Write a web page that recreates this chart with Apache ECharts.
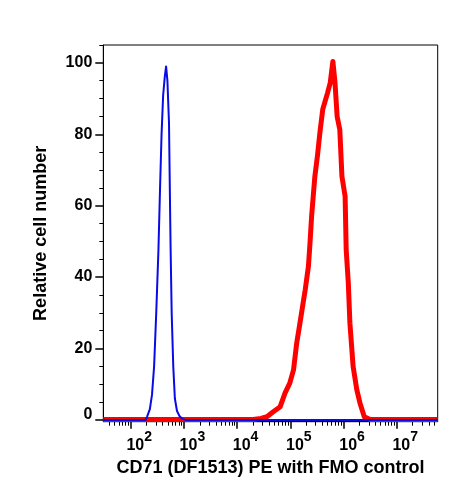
<!DOCTYPE html>
<html>
<head>
<meta charset="utf-8">
<script src="https://cdn.jsdelivr.net/npm/echarts@6/dist/echarts.min.js"></script>
<style>
html,body{margin:0;padding:0;background:#fff;}
#c{width:458px;height:493px;}
</style>
</head>
<body>
<div id="c"></div>
<script>
// x values are log10(fluorescence intensity)
const xRange = [1.485, 7.77];
const yRange = [-0.5, 105];
const xMajorExp = [2, 3, 4, 5, 6, 7];
const yMajor = [0, 20, 40, 60, 80, 100];
const yMinor = [5, 10, 15, 25, 30, 35, 45, 50, 55, 65, 70, 75, 85, 90, 95, 105];

// FMO control (blue)
const fmoLogX = [1.485, 2.28, 2.31, 2.36, 2.40, 2.44, 2.48, 2.52, 2.55, 2.58, 2.61, 2.64, 2.665, 2.69, 2.72, 2.735, 2.75, 2.77, 2.80, 2.83, 2.87, 2.92, 2.97, 3.03, 7.77];
const fmoY   = [0,     0,    1,    3,    7,    15,   30,   47,   64,   80,   91,   96,   99,    95,   83,   65,    48,   30,   15,   6,    2.5,  1,    0.3,  0,    0];

// CD71 (DF1513) PE (red)
const cd71LogX = [1.485, 4.30, 4.45, 4.56, 4.68, 4.81, 4.90, 4.99, 5.06, 5.12, 5.18, 5.24, 5.28, 5.34, 5.37, 5.40, 5.46, 5.51, 5.56, 5.61, 5.70, 5.75, 5.80, 5.84, 5.88, 5.93, 5.97, 6.03, 6.05, 6.09, 6.12, 6.18, 6.25, 6.31, 6.39, 6.50, 7.77];
const cd71Y    = [0.1,   0.1,  0.4,  0.9,  2.3,  3.7,  7.5,  10.3, 14,   21.5, 27,   32.7, 36.4, 43,   49.5, 57,   68,   74,   81,   87,   91.6, 94.4, 100.4, 94.4, 85,  81.3, 68.2, 62.6, 47.7, 38.3, 27.1, 15,   8.4,  4.7,  0.9,  0.1,  0.1];

function zip(xs, ys) { return xs.map((x, i) => [x, ys[i]]); }

const xMinor = [];
for (let d = 1; d <= 7; d++) {
  for (let k = 2; k <= 9; k++) {
    const v = Math.log10(k) + d;
    if (v > xRange[0] && v < xRange[1]) xMinor.push(v);
  }
}

const FONT = '"Liberation Sans", Arial, sans-serif';
const lineBlack = { lineStyle: { color: '#000', width: 1 } };

const chart = echarts.init(document.getElementById('c'), null, { renderer: 'canvas' });
chart.setOption({
  animation: false,
  backgroundColor: '#fff',
  grid: {
    left: 103.3, right: 20.3, top: 45, bottom: 71.3,
    show: true, borderColor: '#000', borderWidth: 1, backgroundColor: 'transparent'
  },
  xAxis: [
    {
      type: 'value', min: xRange[0], max: xRange[1], position: 'bottom',
      axisLine: { show: true, onZero: false, ...lineBlack },
      splitLine: { show: false },
      axisTick: { show: true, customValues: xMajorExp, length: 7, inside: false, lineStyle: { color: '#000', width: 1.5 } },
      axisLabel: {
        show: true, customValues: xMajorExp, margin: 8, padding: [0, 0, 0, 17],
        formatter: v => '{b|10}{s|' + Math.round(v) + '}',
        rich: {
          b: { fontFamily: FONT, fontWeight: 'bold', fontSize: 16, color: '#000' },
          s: { fontFamily: FONT, fontWeight: 'bold', fontSize: 14, color: '#000', padding: [0, 0, 18, 0] }
        }
      },
      name: 'CD71 (DF1513) PE with FMO control',
      nameLocation: 'middle', nameGap: 34,
      nameTextStyle: { fontFamily: FONT, fontWeight: 'bold', fontSize: 18, color: '#000' }
    },
    {
      type: 'value', min: xRange[0], max: xRange[1], position: 'bottom',
      axisLine: { show: false, onZero: false },
      splitLine: { show: false },
      axisTick: { show: true, customValues: xMinor, length: 4, lineStyle: { color: '#000', width: 1 } },
      axisLabel: { show: false }
    }
  ],
  yAxis: [
    {
      type: 'value', min: yRange[0], max: yRange[1], position: 'left',
      axisLine: { show: true, onZero: false, ...lineBlack },
      splitLine: { show: false },
      axisTick: { show: true, customValues: yMajor, length: 8, lineStyle: { color: '#000', width: 1.5 } },
      axisLabel: {
        show: true, customValues: yMajor, margin: 11,
        fontFamily: FONT, fontWeight: 'bold', fontSize: 16, color: '#000',
        formatter: v => v === 0 ? '{z|0}' : String(v),
        rich: { z: { fontFamily: FONT, fontWeight: 'bold', fontSize: 16, color: '#000', padding: [0, 0, 11, 0] } }
      },
      name: 'Relative cell number',
      nameLocation: 'middle', nameGap: 53,
      nameTextStyle: { fontFamily: FONT, fontWeight: 'bold', fontSize: 18, color: '#000' }
    },
    {
      type: 'value', min: yRange[0], max: yRange[1], position: 'left',
      axisLine: { show: false, onZero: false },
      splitLine: { show: false },
      axisTick: { show: true, customValues: yMinor, length: 4, lineStyle: { color: '#000', width: 1 } },
      axisLabel: { show: false }
    }
  ],
  series: [
    {
      name: 'CD71', type: 'line', xAxisIndex: 0, yAxisIndex: 0,
      data: zip(cd71LogX, cd71Y), showSymbol: false, symbol: 'none',
      lineStyle: { color: '#ff0000', width: 5, join: 'round' }, z: 3
    },
    {
      name: 'FMO', type: 'line', xAxisIndex: 0, yAxisIndex: 0,
      data: zip(fmoLogX, fmoY), showSymbol: false, symbol: 'none',
      lineStyle: { color: '#0a0ae6', width: 2, join: 'round' }, z: 4
    }
  ]
});
</script>
</body>
</html>
